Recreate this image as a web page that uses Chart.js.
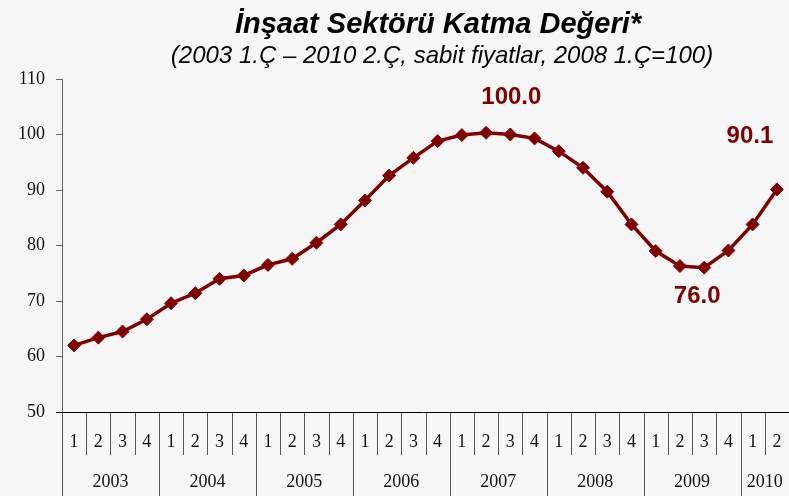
<!DOCTYPE html>
<html>
<head>
<meta charset="utf-8">
<script src="https://cdn.jsdelivr.net/npm/chart.js@4"></script>
<style>
  html, body { margin: 0; padding: 0; background: #f7f7f7; }
  #wrap { width: 789px; height: 496px; }
</style>
</head>
<body>
<div id="wrap"><canvas id="myChart" width="789" height="496"></canvas></div>
<script>
// data
const years = ['2003', '2004', '2005', '2006', '2007', '2008', '2009', '2010'];
const quarters = ['1', '2', '3', '4'];
const quarterCount = [4, 4, 4, 4, 4, 4, 4, 2];
const values = [
    62.0, 63.4, 64.5, 66.7,
    69.6, 71.4, 74.0, 74.6,
    76.5, 77.6, 80.5, 83.8,
    88.1, 92.6, 95.8, 98.8,
    99.9, 100.3, 100.0, 99.3,
    97.0, 94.0, 89.7, 83.8,
    79.0, 76.3, 76.0, 79.1,
    83.8, 90.1
];
const labelledPoints = [18, 26, 29];
const yTicks = [50, 60, 70, 80, 90, 100, 110];

const labels = [];
years.forEach((y, i) => {
    for (let q = 0; q < quarterCount[i]; q++) labels.push(y + ' ' + quarters[q]);
});

const darkRed = '#800000';
const serif = '"Liberation Serif", "Times New Roman", serif';
const sans = '"Liberation Sans", Arial, sans-serif';

// offsets of the value labels from their points
const labelOffsets = { 18: [1, -37], 26: [-7, 29], 29: [-27, -53] };

const drawExtras = {
    id: 'drawExtras',
    afterDraw(chart) {
        const ctx = chart.ctx;
        const xs = chart.scales.x;
        const ys = chart.scales.y;
        const area = chart.chartArea;
        const bottom = area.bottom;
        const n = labels.length;
        const step = n > 1 ? xs.getPixelForValue(1) - xs.getPixelForValue(0) : 0;
        const edge = i => xs.getPixelForValue(i) - step / 2;

        ctx.save();
        // quarter separators and labels
        ctx.strokeStyle = '#555';
        ctx.lineWidth = 1;
        ctx.fillStyle = '#111';
        ctx.font = '18px ' + serif;
        ctx.textAlign = 'center';
        ctx.textBaseline = 'middle';
        let k = 0;
        years.forEach((y, yi) => {
            const start = k;
            for (let q = 0; q < quarterCount[yi]; q++) {
                const x0 = Math.round(edge(k)) + 0.5;
                ctx.beginPath();
                ctx.moveTo(x0, bottom);
                ctx.lineTo(x0, q === 0 ? 496 : 455);
                ctx.stroke();
                ctx.fillText(quarters[q], xs.getPixelForValue(k), 442);
                k++;
            }
            const mid = (edge(start) + edge(k)) / 2;
            ctx.fillText(y, Math.min(mid, 768), 482);
        });

        // x axis line
        ctx.strokeStyle = '#000';
        ctx.beginPath();
        ctx.moveTo(area.left - 6, Math.round(bottom) + 0.5);
        ctx.lineTo(area.right, Math.round(bottom) + 0.5);
        ctx.stroke();

        // value labels
        ctx.fillStyle = darkRed;
        ctx.font = 'bold 24px ' + sans;
        labelledPoints.forEach(i => {
            const off = labelOffsets[i] || [0, -30];
            ctx.fillText(values[i].toFixed(1), xs.getPixelForValue(i) + off[0], ys.getPixelForValue(values[i]) + off[1]);
        });

        // titles
        ctx.fillStyle = '#000';
        ctx.textBaseline = 'alphabetic';
        ctx.font = 'italic bold 29px ' + sans;
        ctx.fillText('İnşaat Sektörü Katma Değeri*', 438, 33);
        ctx.font = 'italic 24px ' + sans;
        ctx.fillText('(2003 1.Ç – 2010 2.Ç, sabit fiyatlar, 2008 1.Ç=100)', 442, 63);
        ctx.restore();
    }
};

const data = {
    labels: labels,
    datasets: [{
        data: values,
        borderColor: darkRed,
        backgroundColor: darkRed,
        borderWidth: 3.5,
        pointStyle: 'rectRot',
        pointRadius: 6.5,
        pointBorderWidth: 1,
        pointBackgroundColor: darkRed,
        pointBorderColor: darkRed,
        tension: 0,
        fill: false,
        clip: false,
    }]
};

const config = {
    type: 'line',
    data: data,
    options: {
        responsive: false,
        animation: false,
        layout: {
            autoPadding: false,
            padding: { top: 79, bottom: 84, left: 0, right: -3 }
        },
        plugins: {
            legend: { display: false },
            tooltip: { enabled: false },
            title: { display: false },
        },
        scales: {
            x: {
                type: 'category',
                display: false,
                offset: true,
            },
            y: {
                min: 50,
                max: 110,
                afterFit(scale) { scale.width = 62; },
                afterBuildTicks(scale) { scale.ticks = yTicks.map(v => ({ value: v })); },
                ticks: {
                    color: '#111',
                    font: { family: serif, size: 18 },
                    padding: 11,
                },
                grid: {
                    drawOnChartArea: false,
                    drawTicks: true,
                    tickLength: 6,
                    tickColor: '#666',
                },
                border: { color: '#666', width: 1 },
            }
        }
    },
    plugins: [drawExtras],
};

const myChart = new Chart(document.getElementById('myChart'), config);
</script>
</body>
</html>
